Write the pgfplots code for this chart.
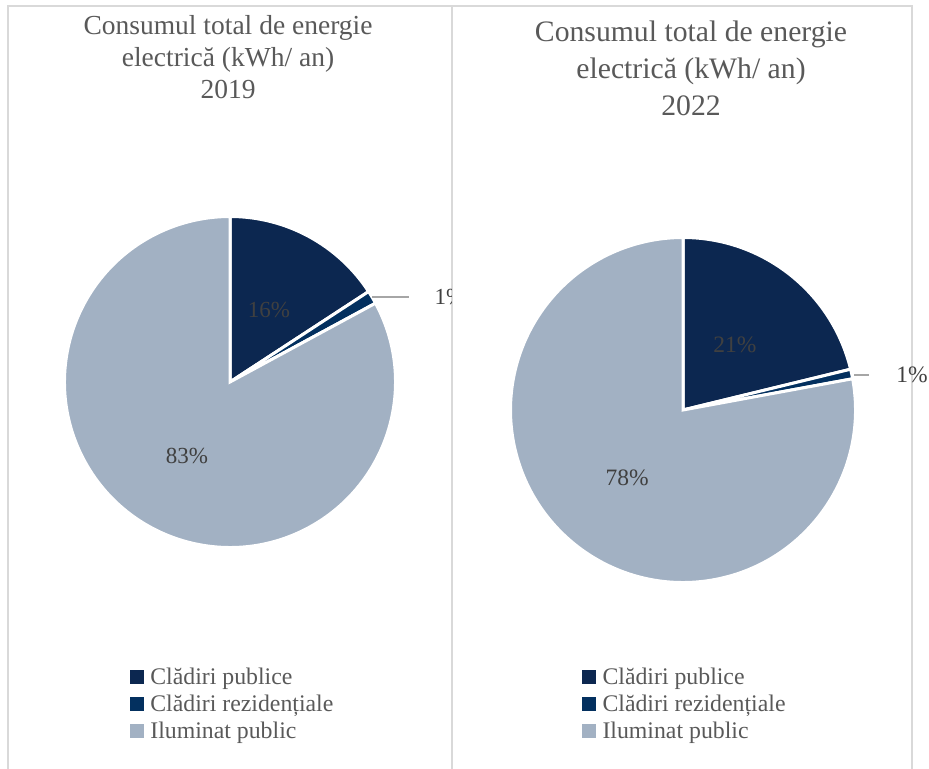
\documentclass[border=0pt]{standalone}
\usepackage{fontspec}
\setmainfont{Liberation Serif}
\usepackage{pgfplots}
\usepackage{pgfplotstable}
\pgfplotsset{compat=1.18}
\definecolor{cPub}{HTML}{0C2750}
\definecolor{cRez}{HTML}{03305F}
\definecolor{cIlu}{HTML}{A2B1C3}
\definecolor{txt}{HTML}{595959}
\definecolor{lbl}{HTML}{404040}
\definecolor{frame}{HTML}{D9D9D9}
\definecolor{lead}{HTML}{A6A6A6}

% shares in percent, 2019
\pgfplotstableread{
cat value
publice 15.8
rezidentiale 1.3
iluminat 82.9
}\dataA
% shares in percent, 2022
\pgfplotstableread{
cat value
publice 21.2
rezidentiale 0.9
iluminat 77.9
}\dataB

\pgfplotsset{
  pieaxis/.style={
    scale only axis, width=#1, height=#1,
    xmin=-1, xmax=1, ymin=-1, ymax=1,
    hide axis, clip=false, anchor=center,
    legend cell align=left,
    legend image code/.code={\fill[##1] (0bp,-3.5bp) rectangle (13bp,9.5bp);},
    legend style={draw=none, fill=none, inner sep=0pt, outer sep=0pt,
      font=\fontsize{23.8bp}{27bp}\selectfont, text=txt,
      row sep=0pt, column sep=0pt,
      nodes={inner sep=0pt, text height=18bp, text depth=9bp},
      /tikz/every odd column/.append style={column sep=7bp}},
  }
}

\begin{document}
\begin{tikzpicture}[x=1bp,y=1bp]
\useasboundingbox (0bp,0bp) rectangle (929bp,769bp);

\pgfplotstablegetelem{0}{value}\of\dataA \let\vAa\pgfplotsretval
\pgfplotstablegetelem{1}{value}\of\dataA \let\vAb\pgfplotsretval
\pgfplotstablegetelem{2}{value}\of\dataA \let\vAc\pgfplotsretval
\pgfplotstablegetelem{0}{value}\of\dataB \let\vBa\pgfplotsretval
\pgfplotstablegetelem{1}{value}\of\dataB \let\vBb\pgfplotsretval
\pgfplotstablegetelem{2}{value}\of\dataB \let\vBc\pgfplotsretval
\pgfmathsetmacro\aAa{90}
\pgfmathsetmacro\aAb{\aAa-3.6*\vAa}
\pgfmathsetmacro\aAc{\aAb-3.6*\vAb}
\pgfmathsetmacro\aAd{\aAc-3.6*\vAc}
\pgfmathsetmacro\aBa{90}
\pgfmathsetmacro\aBb{\aBa-3.6*\vBa}
\pgfmathsetmacro\aBc{\aBb-3.6*\vBb}
\pgfmathsetmacro\aBd{\aBc-3.6*\vBc}

% frames
\draw[frame, line width=2bp] (7.5bp,0bp) -- (7.5bp,763bp) -- (912bp,763bp) -- (912bp,0bp);
\draw[frame, line width=2bp] (452bp,0bp) -- (452bp,763bp);

% ---------- 2019 ----------
\begin{scope}
\clip (8.5bp,0bp) rectangle (451bp,769bp);
\begin{axis}[pieaxis=328bp, at={(230bp,387bp)},
  legend style={at={(axis cs:-0.61,-1.735)}, anchor=north west}]
  \addlegendimage{cPub}\addlegendentry{Clădiri publice}
  \addlegendimage{cRez}\addlegendentry{Clădiri rezidențiale}
  \addlegendimage{cIlu}\addlegendentry{Iluminat public}
  \fill[cPub, draw=white, line width=3bp] (axis cs:0,0) -- ++(\aAa:165.5bp) arc[start angle=\aAa, end angle=\aAb, radius=165.5bp] -- cycle;
  \fill[cRez, draw=white, line width=3bp] (axis cs:0,0) -- ++(\aAb:165.5bp) arc[start angle=\aAb, end angle=\aAc, radius=165.5bp] -- cycle;
  \fill[cIlu, draw=white, line width=3bp] (axis cs:0,0) -- ++(\aAc:165.5bp) arc[start angle=\aAc, end angle=\aAd, radius=165.5bp] -- cycle;
  \node[font=\fontsize{23bp}{27bp}\selectfont, text=lbl] at (axis cs:0.238,0.439) {16\%};
  \node[font=\fontsize{23bp}{27bp}\selectfont, text=lbl] at (axis cs:-0.262,-0.451) {83\%};
  \draw[lead, line width=1.5bp] (axis cs:0.866,0.518) -- (axis cs:1.091,0.518);
  \node[font=\fontsize{23bp}{27bp}\selectfont, text=lbl] at (axis cs:1.341,0.518) {1\%};
\end{axis}
\node[align=center, text=txt, font=\fontsize{27.5bp}{32bp}\selectfont] at (228bp,712bp)
  {Consumul total de energie\\electrică (kWh/ an)\\2019};
\end{scope}

% ---------- 2022 ----------
\begin{axis}[pieaxis=342bp, at={(683bp,359bp)},
  legend style={at={(axis cs:-0.59,-1.50)}, anchor=north west}]
  \addlegendimage{cPub}\addlegendentry{Clădiri publice}
  \addlegendimage{cRez}\addlegendentry{Clădiri rezidențiale}
  \addlegendimage{cIlu}\addlegendentry{Iluminat public}
  \fill[cPub, draw=white, line width=3bp] (axis cs:0,0) -- ++(\aBa:172.5bp) arc[start angle=\aBa, end angle=\aBb, radius=172.5bp] -- cycle;
  \fill[cRez, draw=white, line width=3bp] (axis cs:0,0) -- ++(\aBb:172.5bp) arc[start angle=\aBb, end angle=\aBc, radius=172.5bp] -- cycle;
  \fill[cIlu, draw=white, line width=3bp] (axis cs:0,0) -- ++(\aBc:172.5bp) arc[start angle=\aBc, end angle=\aBd, radius=172.5bp] -- cycle;
  \node[font=\fontsize{23.5bp}{27bp}\selectfont, text=lbl] at (axis cs:0.304,0.380) {21\%};
  \node[font=\fontsize{23.5bp}{27bp}\selectfont, text=lbl] at (axis cs:-0.327,-0.398) {78\%};
  \draw[lead, line width=1.5bp] (axis cs:1.0,0.205) -- (axis cs:1.088,0.205);
  \node[font=\fontsize{23.5bp}{27bp}\selectfont, text=lbl] at (axis cs:1.339,0.205) {1\%};
\end{axis}
\node[align=center, text=txt, font=\fontsize{29.7bp}{37bp}\selectfont] at (691bp,701bp)
  {Consumul total de energie\\electrică (kWh/ an)\\2022};
\end{tikzpicture}
\end{document}
